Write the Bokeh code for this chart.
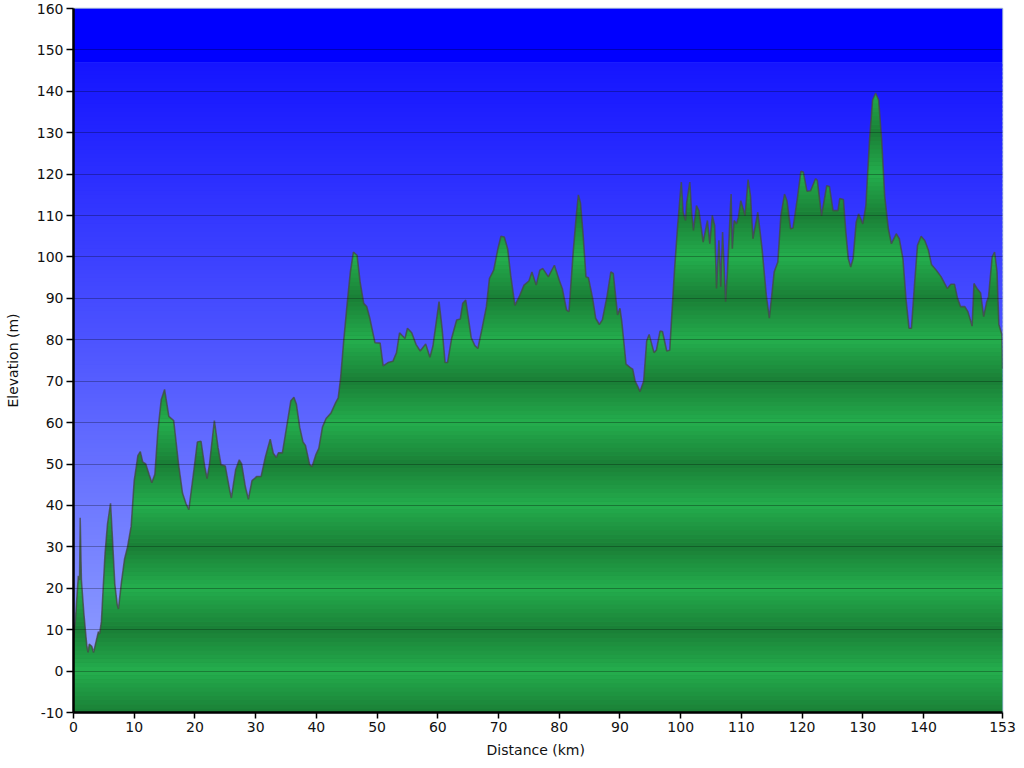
import numpy as np
from bokeh.plotting import figure
from bokeh.models import FixedTicker, Range1d
from bokeh.embed import file_html
from bokeh.resources import INLINE

distance_km = [
    0.0, 0.3, 0.8, 1.0, 1.1, 1.3, 1.7, 2.2, 2.4, 2.6, 3.0, 3.3, 3.7, 4.1, 4.3, 4.6,
    5.2, 5.6, 6.1, 6.4, 6.8, 7.2, 7.4, 7.9, 8.4, 8.9, 9.5, 10.0, 10.6, 11.0, 11.4,
    11.9, 12.45, 12.9, 13.4, 13.9, 14.45, 15.0, 15.7, 16.5, 17.3, 17.95, 18.5, 19.0,
    19.7, 20.4, 21.0, 21.6, 22.0, 22.4, 23.2, 23.8, 24.3, 25.0, 25.7, 26.0, 26.7,
    27.3, 27.7, 28.3, 28.8, 29.4, 30.2, 30.9, 31.6, 32.4, 32.9, 33.4, 33.75, 34.4,
    35.1, 35.8, 36.3, 36.7, 37.25, 37.8, 38.2, 38.9, 39.3, 39.9, 40.4, 41.0, 41.6,
    42.4, 43.2, 43.6, 44.0, 44.5, 45.1, 45.6, 46.1, 46.7, 47.2, 47.8, 48.3, 48.8,
    49.65, 50.5, 51.0, 51.8, 52.6, 53.2, 53.7, 54.6, 55.0, 55.7, 56.4, 57.1, 58.0,
    58.7, 59.2, 60.2, 60.7, 61.2, 61.6, 62.3, 63.1, 63.7, 64.1, 64.6, 65.5, 66.1,
    66.6, 67.3, 68.0, 68.5, 69.2, 69.9, 70.4, 70.95, 71.5, 72.0, 72.7, 73.4, 74.2,
    75.0, 75.5, 76.2, 76.8, 77.3, 78.2, 79.2, 80.0, 80.5, 81.2, 81.6, 82.3, 82.8,
    83.15, 83.5, 83.9, 84.4, 84.8, 85.5, 86.0, 86.6, 87.1, 87.9, 88.5, 88.9, 89.6,
    90.0, 90.3, 91.0, 91.7, 92.1, 92.5, 93.0, 93.3, 93.9, 94.4, 94.8, 95.6, 96.0,
    96.6, 97.0, 97.7, 98.2, 98.6, 99.0, 99.5, 100.1, 100.4, 100.8, 101.0, 101.5,
    101.8, 102.1, 102.6, 103.0, 103.7, 104.4, 104.8, 105.2, 105.6, 105.9, 106.3,
    106.6, 106.9, 107.4, 107.7, 108.3, 108.5, 108.8, 109.2, 109.5, 109.9, 110.6,
    111.1, 111.5, 111.9, 112.7, 113.4, 114.1, 114.6, 115.4, 116.0, 116.5, 117.1,
    117.5, 118.1, 118.5, 119.2, 119.8, 120.2, 120.8, 121.4, 122.2, 122.5, 123.2,
    124.05, 124.5, 125.1, 125.9, 126.2, 126.8, 127.2, 127.6, 128.0, 128.4, 128.9,
    129.3, 130.0, 130.5, 131.1, 131.6, 132.1, 132.6, 133.1, 133.6, 134.2, 134.7,
    135.5, 136.0, 136.6, 137.1, 137.6, 138.0, 138.5, 139.0, 139.6, 140.2, 140.8,
    141.3, 142.1, 142.9, 143.9, 144.5, 145.1, 145.6, 146.1, 146.8, 147.3, 148.0,
    148.3, 148.8, 149.4, 149.9, 150.4, 150.7, 151.3, 151.7, 152.1, 152.4, 152.9,
    153.0,
]
elevation_m = [
    8, 12, 23, 22, 37, 22, 14, 6, 4.5, 6.5, 6, 4.5, 7, 9.5, 9, 12,
    28.5, 35.5, 40.5, 32.5, 21, 16, 15, 21.5, 27, 30, 35, 46, 52, 53, 50.5,
    50, 47.5, 45.5, 47.5, 58, 65.5, 68, 61.5, 60.5, 50, 43, 40.5, 39,
    47, 55.3, 55.5, 49.5, 46.5, 50, 60.5, 54, 49.8, 49.5, 43.8, 41.8, 48.6,
    51, 50, 44.5, 41.5, 46, 47, 47, 51.7, 56, 52.6, 51.6, 52.7, 52.7,
    58.9, 65.3, 66.1, 64.5, 58.9, 55.3, 54.5, 49.8, 49.4, 52.2, 53.8, 58.9, 61,
    62.3, 64.9, 66, 70.9, 79.7, 89.2, 96.4, 101.2, 100.4, 94, 88.8, 88, 85.2,
    79.3, 79.2, 73.7, 74.5, 74.8, 76.9, 81.7, 80.3, 82.8, 81.7, 78.9, 77.3, 79,
    75.8, 78.5, 89.2, 82.8, 74.5, 74.5, 80.5, 84.8, 85, 88.8, 89.6, 80.5, 78.6,
    77.9, 82.8, 88, 94.8, 96.8, 102, 105, 104.8, 102, 95.6, 88.3, 90.4, 93.2,
    94.2, 96.4, 93.2, 96.8, 97.2, 95.2, 98, 94.4, 92.4, 87.2, 86.8, 101.2, 110,
    115, 113, 106, 95.2, 95, 90, 85.2, 83.7, 84.8, 90.8, 96.4, 96, 86,
    87.6, 84.4, 74.1, 73.3, 72.9, 70, 68.5, 67.5, 70, 79.7, 81.3, 76.9, 77.5,
    82.1, 82, 77.3, 77.5, 87.6, 97.2, 107.6, 118.1, 110.8, 108.8, 113.2, 118.1,
    110.8, 106.4, 112.4, 111.2, 103.6, 108.8, 103.2, 110, 107.6, 92.4, 104,
    92.8, 106, 89.2, 96.4, 115.2, 102, 108.8, 108, 109.6, 113.6, 110,
    118.7, 114.7, 104.4, 110.8, 102, 90.8, 85.2, 96.4, 98.8, 110, 115.2,
    113.6, 106.8, 107, 114, 120.7, 120.5, 115.9, 116, 118.9, 118.5, 110,
    117.2, 117, 111.2, 111.2, 114.1, 113.9, 106, 99.6, 97.6, 99.6, 108.4,
    110.4, 108, 112.4, 128.3, 137.9, 139.6, 137.9, 128.3, 114.7, 106.8, 103.2,
    105.6, 104.4, 99.6, 90, 82.8, 82.8, 93.2, 102.8, 105, 104, 101.6,
    98.2, 96.8, 95.2, 92.4, 93.4, 93.4, 90, 88, 88, 86.8, 83.3,
    93.6, 92.4, 91.3, 85.6, 89.2, 90.4, 100, 101.2, 96.4, 83.7, 81.3,
    73,
]
y_ticks = list(range(-10, 161, 10))
y_tick_labels = [str(t) for t in y_ticks]
x_ticks = [0, 10, 20, 30, 40, 50, 60, 70, 80, 90, 100, 110, 120, 130, 140, 153]
x_tick_labels = [str(t) for t in x_ticks]

X_MIN, X_MAX = 0, 153
Y_MIN, Y_MAX = -10, 160

p = figure(width=1024, height=768, output_backend="svg", toolbar_location=None,
           x_range=Range1d(X_MIN, X_MAX), y_range=Range1d(Y_MIN, Y_MAX),
           min_border_left=81, min_border_right=14, min_border_top=16,
           min_border_bottom=48)
p.margin = (-8, -8, -8, -8)
p.background_fill_color = "#5060ff"
p.border_fill_color = "white"
p.outline_line_color = "#a8bcd8"
p.outline_line_width = 1.5

# ---- blue gradient sky ----
def lerp(c0, c1, t):
    return tuple(int(round(a + (b - a) * t)) for a, b in zip(c0, c1))

def hexc(c):
    return "#%02x%02x%02x" % c

sky_top = (20, 20, 255)
sky_bot = (152, 168, 255)
b = np.arange(-10, 147, 1.0)
sky_cols = [hexc(lerp(sky_bot, sky_top, (v + 10) / 157.0)) for v in b]
p.quad(left=X_MIN, right=X_MAX, bottom=b, top=np.minimum(b + 1.6, 147),
       fill_color=sky_cols, line_color=None)
p.quad(left=X_MIN, right=X_MAX, bottom=147, top=Y_MAX, fill_color="#0000ff",
       line_color=None)

# ---- green banded fill under the profile ----
xs = np.array(distance_km, dtype=float)
ys = np.array(elevation_m, dtype=float)
levels = np.arange(-10, 161, 1.0)

rx, ry = [xs[0]], [ys[0]]
for i in range(len(xs) - 1):
    x0, y0, x1, y1 = xs[i], ys[i], xs[i + 1], ys[i + 1]
    if y1 != y0:
        lo, hi = min(y0, y1), max(y0, y1)
        ts = sorted((L - y0) / (y1 - y0) for L in levels if lo < L < hi)
        for t in ts:
            rx.append(x0 + t * (x1 - x0))
            ry.append(y0 + t * (y1 - y0))
    rx.append(x1)
    ry.append(y1)
rx = np.array(rx)
ry = np.array(ry)

green_light = (36, 174, 77)
green_dark = (26, 126, 54)
p.varea(x=xs, y1=Y_MIN, y2=ys, fill_color=hexc(lerp(green_dark, green_light, 0.5)))

for lo in np.arange(-10, 140, 1.0):
    hi = lo + 1.0
    c = np.clip(ry, lo, hi)
    if np.all(c == lo):
        continue
    flat = (c == lo) | (c == hi)
    same_prev = np.r_[False, c[1:] == c[:-1]]
    same_next = np.r_[c[:-1] == c[1:], False]
    keep = ~(flat & same_prev & same_next)
    mid = lo + 0.5
    t = abs((mid % 20) - 10) / 10.0   # 1 at even tens (light), 0 at odd tens (dark)
    col = hexc(lerp(green_dark, green_light, t))
    p.varea(x=rx[keep], y1=lo, y2=c[keep], fill_color=col)

# ---- profile outline ----
p.line(xs, ys, line_color="#474747", line_alpha=0.75, line_width=1.6)

# ---- grid ----
p.xgrid.visible = False
p.ygrid.ticker = FixedTicker(ticks=y_ticks)
p.ygrid.grid_line_color = "black"
p.ygrid.grid_line_alpha = 0.28
p.ygrid.grid_line_width = 1
p.ygrid.level = "overlay"

# ---- axes ----
font = "DejaVu Sans"
for ax in (p.xaxis[0], p.yaxis[0]):
    ax.axis_line_color = "black"
    ax.axis_line_width = 2.5
    ax.major_tick_line_color = "black"
    ax.major_tick_line_width = 1.5
    ax.minor_tick_line_color = None
    ax.major_tick_in = 0
    ax.major_label_text_font = font
    ax.major_label_text_font_size = "14px"
    ax.major_label_text_color = "#111111"
    ax.axis_label_text_font = font
    ax.axis_label_text_font_size = "14px"
    ax.axis_label_text_font_style = "normal"
    ax.axis_label_text_color = "#111111"

p.yaxis.ticker = FixedTicker(ticks=y_ticks)
p.yaxis.major_label_overrides = {t: lab for t, lab in zip(y_ticks, y_tick_labels)}
p.yaxis.major_tick_out = 7
p.yaxis.major_label_standoff = 3
p.yaxis.axis_label = "Elevation (m)"
p.yaxis.axis_label_standoff = 13

p.xaxis.ticker = FixedTicker(ticks=x_ticks)
p.xaxis.major_label_overrides = {t: lab for t, lab in zip(x_ticks, x_tick_labels)}
p.xaxis.major_tick_out = 6
p.xaxis.major_label_standoff = 3
p.xaxis.axis_label = "Distance  (km)"
p.xaxis.axis_label_standoff = 7

open("out.html", "w").write(file_html(p, INLINE))
